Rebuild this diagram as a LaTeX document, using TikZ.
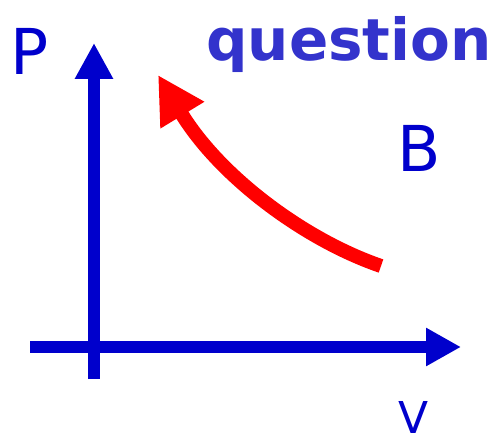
\documentclass[tikz,border=0pt]{standalone}
\usepackage{fontspec}
\usetikzlibrary{arrows.meta}
\newfontfamily\lblfont{DejaVu Sans}
\definecolor{axisblue}{RGB}{0,0,204}
\definecolor{qblue}{RGB}{51,51,204}
\tikzset{
  axisline/.style={draw=axisblue, line width=12*0.02cm},
  pvarrow/.style={draw=red, line width=14*0.02cm,
    -{Triangle[length=47*0.02cm, width=48*0.02cm]}},
  axlbl/.style={text=axisblue, inner sep=0pt, font=\lblfont\fontsize{36}{40}\selectfont}
}
\begin{document}
\begin{tikzpicture}[x=0.02cm, y=-0.02cm]
  \useasboundingbox (0,0) rectangle (494,446);
  % axes
  \coordinate (ybot) at (94,379);
  \coordinate (ytop) at (94,43);
  \coordinate (xleft) at (30,347);
  \coordinate (xright) at (461,347);
  \draw[axisline, -{Triangle[length=36*0.02cm, width=36*0.02cm]}] (ybot) -- (ytop);
  \draw[axisline, -{Triangle[length=35*0.02cm, width=36*0.02cm]}] (xleft) -- (xright);
  % labels
  \node[axlbl] (P) at (30,51) {P};
  \node[axlbl] (B) at (419,148) {B};
  \node[axlbl, font=\lblfont\fontsize{25}{30}\selectfont] (V) at (414,417) {V};
  \node[inner sep=0pt, text=qblue, font=\lblfont\bfseries\fontsize{33}{40}\selectfont]
    (Q) at (349,45) {question};
  % process curve
  \coordinate (Bstart) at (381,266);
  \coordinate (Aend) at (158,75);
  \draw[pvarrow] (Bstart) .. controls (305,240) and (220,177) .. (Aend);
\end{tikzpicture}
\end{document}
